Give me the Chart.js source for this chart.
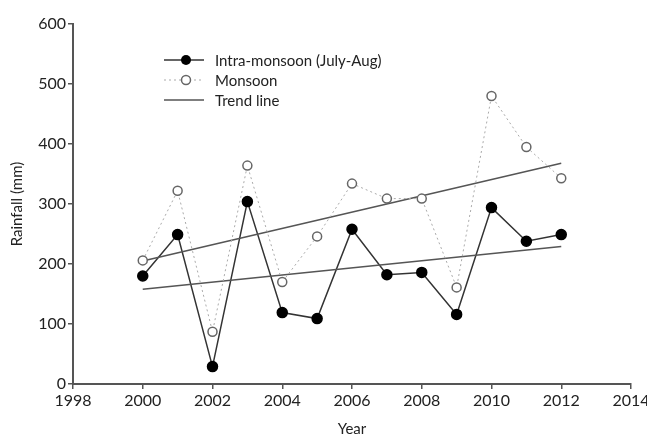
<!DOCTYPE html>
<html>
<head>
<meta charset="utf-8">
<script src="https://cdn.jsdelivr.net/npm/chart.js@4"></script>
<style>
  html, body { margin: 0; padding: 0; background: #fff; }
  #wrap { position: relative; width: 647px; height: 438px; }
  #legend { position: absolute; left: 164px; top: 50px; font-family: Lato, sans-serif; font-size: 15px; color: #222; }
  #legend .row { display: flex; align-items: center; height: 20px; }
  #legend svg { margin-right: 11px; }
</style>
</head>
<body>
<div id="wrap">
  <canvas id="rainCanvas" width="647" height="438"></canvas>
  <div id="legend">
    <div class="row">
      <svg width="40" height="12"><line x1="0" y1="6" x2="40" y2="6" stroke="#333" stroke-width="1.5"/><circle cx="22" cy="6" r="5" fill="#000"/></svg>
      <span>Intra-monsoon (July-Aug)</span>
    </div>
    <div class="row">
      <svg width="40" height="12"><line x1="0" y1="6" x2="40" y2="6" stroke="#aaa" stroke-width="1" stroke-dasharray="2,3"/><circle cx="22" cy="6" r="4.5" fill="#fff" stroke="#666" stroke-width="1.5"/></svg>
      <span>Monsoon</span>
    </div>
    <div class="row">
      <svg width="40" height="12"><line x1="0" y1="6" x2="40" y2="6" stroke="#555" stroke-width="1.5"/></svg>
      <span>Trend line</span>
    </div>
  </div>
</div>
<script>
// values (mm)
const YEARS = [2000, 2001, 2002, 2003, 2004, 2005, 2006, 2007, 2008, 2009, 2010, 2011, 2012];
const INTRA = [180, 249, 29, 304, 119, 109, 258, 182, 186, 116, 294, 238, 249];
const MONSOON = [206, 322, 87, 364, 170, 246, 334, 309, 309, 161, 480, 395, 343];
const TREND_YEARS = [2000, 2012];
const INTRA_TREND = [158, 229];
const MONSOON_TREND = [205, 368];
const X_TICKS = [1998, 2000, 2002, 2004, 2006, 2008, 2010, 2012, 2014];
const Y_TICKS = [0, 100, 200, 300, 400, 500, 600];

const toPoints = (xs, ys) => xs.map((x, i) => ({ x, y: ys[i] }));

const TICK_FONT = { family: 'Lato', size: 16 };
const AXIS_GRID = { drawOnChartArea: false, drawTicks: true, tickLength: 5, color: '#555', lineWidth: 1.5 };

new Chart(document.getElementById('rainCanvas').getContext('2d'), {
  type: 'line',
  data: {
    datasets: [
      {
        label: 'Monsoon',
        data: toPoints(YEARS, MONSOON),
        borderColor: '#aaa',
        borderWidth: 1,
        borderDash: [2, 3],
        pointRadius: 4.5,
        pointBackgroundColor: '#fff',
        pointBorderColor: '#666',
        pointBorderWidth: 1.5,
        tension: 0,
      },
      {
        label: 'Intra-monsoon trend',
        data: toPoints(TREND_YEARS, INTRA_TREND),
        borderColor: '#555',
        borderWidth: 1.5,
        pointRadius: 0,
      },
      {
        label: 'Monsoon trend',
        data: toPoints(TREND_YEARS, MONSOON_TREND),
        borderColor: '#555',
        borderWidth: 1.5,
        pointRadius: 0,
      },
      {
        label: 'Intra-monsoon (July-Aug)',
        data: toPoints(YEARS, INTRA),
        borderColor: '#333',
        borderWidth: 1.5,
        pointRadius: 5,
        pointBackgroundColor: '#000',
        pointBorderColor: '#000',
        tension: 0,
      },
    ],
  },
  options: {
    responsive: false,
    animation: false,
    layout: { padding: { top: 24, right: 16, left: 0, bottom: 0 } },
    plugins: { legend: { display: false }, tooltip: { enabled: false } },
    scales: {
      x: {
        type: 'linear',
        min: 1998,
        max: 2014,
        afterBuildTicks: s => { s.ticks = X_TICKS.map(v => ({ value: v })); },
        afterFit: s => { s.height = 54; s.paddingLeft = 0; s.paddingRight = 0; },
        ticks: { color: '#222', font: TICK_FONT, padding: 2, callback: v => String(v) },
        grid: AXIS_GRID,
        border: { color: '#555', width: 2 },
        title: { display: true, text: 'Year', color: '#222', font: { family: 'Lato', size: 15 }, padding: { top: 0, bottom: 0 } },
      },
      y: {
        min: 0,
        max: 600,
        afterBuildTicks: s => { s.ticks = Y_TICKS.map(v => ({ value: v })); },
        afterFit: s => { s.width = 73; s.paddingTop = 0; s.paddingBottom = 0; },
        ticks: { color: '#222', font: TICK_FONT, padding: 2 },
        grid: AXIS_GRID,
        border: { color: '#555', width: 2 },
        title: { display: true, text: 'Rainfall (mm)', color: '#222', font: { family: 'Lato', size: 15 }, padding: { top: 8, bottom: 0 } },
      },
    },
  },
});
</script>
</body>
</html>
